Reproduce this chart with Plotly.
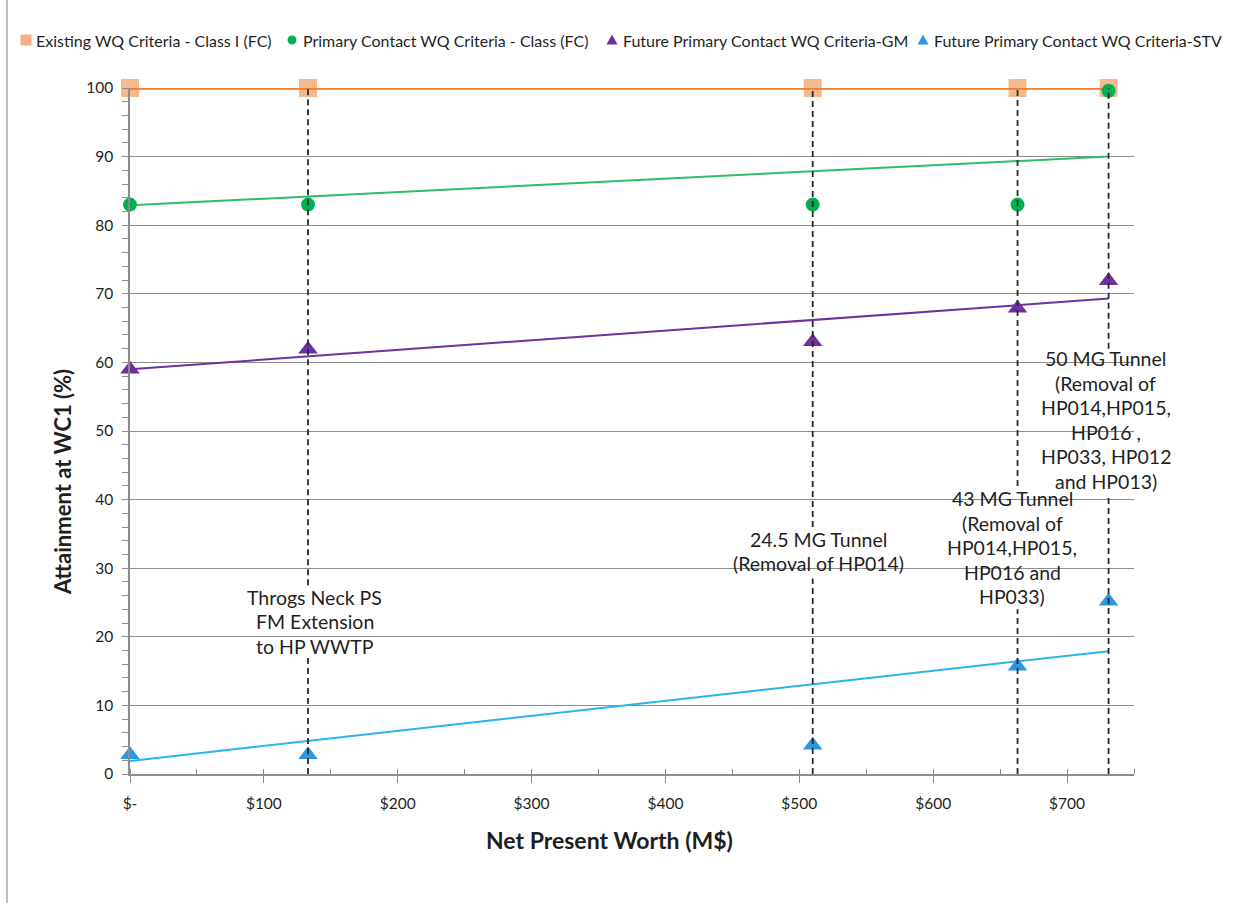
import plotly.graph_objects as go

# ---- data -------------------------------------------------------------
npw = [0, 133, 510, 663, 731]                       # Net present worth (M$)
existing_class1 = [100, 100, 100, 100, 100]
primary_contact = [83.0, 83.0, 83.0, 83.0, 99.6]
future_gm = [59.0, 61.9, 63.0, 67.9, 71.9]
future_stv = [2.8, 2.8, 4.2, 15.7, 25.2]

trend_x = [0, 731]
existing_trend = [100.0, 100.0]
primary_trend = [82.9, 90.0]
gm_trend = [59.0, 69.3]
stv_trend = [1.9, 17.9]

x_tickvals = [0, 100, 200, 300, 400, 500, 600, 700]
x_ticktext = ["$-", "$100", "$200", "$300", "$400", "$500", "$600", "$700"]

series_names = [
    "Existing WQ Criteria - Class I (FC)",
    "Primary Contact WQ Criteria - Class (FC)",
    "Future Primary Contact WQ Criteria-GM",
    "Future Primary Contact WQ Criteria-STV",
]

# alternative labels: (npw, attainment at label centre, lines of text)
alt_labels = [
    (138, 22.2, ["Throgs Neck PS", "FM Extension", "to HP WWTP"]),
    (514, 32.4, ["24.5 MG Tunnel", "(Removal of HP014)"]),
    (659, 33.0, ["43 MG Tunnel", "(Removal of", "HP014,HP015,", "HP016 and", "HP033)"]),
    (729, 51.6, ["50 MG Tunnel", "(Removal of", "HP014,HP015,", "HP016 ,", "HP033, HP012", "and HP013)"]),
]
# vertical leader lines break where the label text sits (y from, y to)
leader_gaps = {133: (17.0, 27.5), 510: (28.5, 36.0), 663: (24.0, 42.0), 731: (40.5, 62.0)}

FONT = "Lato, 'Open Sans', sans-serif"
TXT = "#1f1f1f"
GRID = "#8c8c8c"

fig = go.Figure()

# trend lines
fig.add_trace(go.Scatter(x=trend_x, y=primary_trend, mode="lines",
                         line=dict(color="#2cbf66", width=2), showlegend=False, hoverinfo="skip"))
fig.add_trace(go.Scatter(x=trend_x, y=gm_trend, mode="lines",
                         line=dict(color="#7030a0", width=2), showlegend=False, hoverinfo="skip"))
fig.add_trace(go.Scatter(x=trend_x, y=stv_trend, mode="lines",
                         line=dict(color="#2bb3ee", width=2), showlegend=False, hoverinfo="skip"))

# markers
fig.add_trace(go.Scatter(x=npw, y=existing_class1, mode="markers", name=series_names[0],
                         marker=dict(symbol="square", size=18, color="#f4b183", opacity=0.9),
                         cliponaxis=False, showlegend=False))
fig.add_trace(go.Scatter(x=trend_x, y=existing_trend, mode="lines",
                         line=dict(color="#ed7d31", width=3.5), showlegend=False, hoverinfo="skip"))
fig.add_trace(go.Scatter(x=npw, y=primary_contact, mode="markers", name=series_names[1],
                         marker=dict(symbol="circle", size=14, color="#00b050"),
                         cliponaxis=False, showlegend=False))
fig.add_trace(go.Scatter(x=npw, y=future_gm, mode="markers", name=series_names[2],
                         marker=dict(symbol="triangle-up", size=17, color="#7030a0"),
                         cliponaxis=False, showlegend=False))
fig.add_trace(go.Scatter(x=npw, y=future_stv, mode="markers", name=series_names[3],
                         marker=dict(symbol="triangle-up", size=17, color="#2e96e0"),
                         cliponaxis=False, showlegend=False))

# dashed leader lines for each alternative
for xv in npw[1:]:
    lo, hi = leader_gaps[xv]
    fig.add_trace(go.Scatter(x=[xv, xv, None, xv, xv], y=[0, lo, None, hi, 100], mode="lines",
                             line=dict(color="#2a2a2a", width=1.8, dash="6px,4px"),
                             showlegend=False, hoverinfo="skip", cliponaxis=False))

# alternative labels, one annotation per text line
LINE_STEP = 24.5
for xv, yv, lines in alt_labels:
    n = len(lines)
    for i, line in enumerate(lines):
        fig.add_annotation(x=xv, y=yv, text=line, showarrow=False, xanchor="center", yanchor="middle",
                           yshift=-(i - (n - 1) / 2) * LINE_STEP,
                           font=dict(family=FONT, size=19.5, color=TXT))

# legend row drawn across the top
PL, PR, PT, PB = 130, 104, 88, 129
W, H = 1238, 903
pw, ph = W - PL - PR, H - PT - PB


def px(xp):
    return (xp - PL) / pw


def py(yp):
    return (H - PB - yp) / ph


legend_y = 40
legend_items = [
    ("square", "#f4b183", 26, 34),
    ("circle", "#00b050", 292, 301),
    ("triangle", "#7030a0", 612, 621),
    ("triangle", "#2e96e0", 923, 932),
]
for (kind, col, mx, tx), name in zip(legend_items, series_names):
    if kind == "square":
        fig.add_shape(type="rect", xref="paper", yref="paper", xsizemode="pixel", ysizemode="pixel",
                      xanchor=px(mx), yanchor=py(legend_y), x0=-5.5, x1=5.5, y0=-5.5, y1=5.5,
                      fillcolor=col, line=dict(width=0))
    elif kind == "circle":
        fig.add_shape(type="circle", xref="paper", yref="paper", xsizemode="pixel", ysizemode="pixel",
                      xanchor=px(mx), yanchor=py(legend_y), x0=-4.5, x1=4.5, y0=-4.5, y1=4.5,
                      fillcolor=col, line=dict(width=0))
    else:
        fig.add_shape(type="path", xref="paper", yref="paper", xsizemode="pixel", ysizemode="pixel",
                      xanchor=px(mx), yanchor=py(legend_y), path="M -5.5 -4.5 L 5.5 -4.5 L 0 5.5 Z",
                      fillcolor=col, line=dict(width=0))
    fig.add_annotation(xref="paper", yref="paper", x=px(tx), y=py(legend_y), text=name,
                       showarrow=False, xanchor="left", yanchor="middle",
                       font=dict(family=FONT, size=16, color=TXT))

# axis titles
fig.add_annotation(xref="paper", yref="paper", x=px(609), y=py(840), text="<b>Net Present Worth (M$)</b>",
                   showarrow=False, xanchor="center", yanchor="middle",
                   font=dict(family=FONT, size=23, color=TXT))
fig.add_annotation(xref="paper", yref="paper", x=px(62), y=py(482), text="<b>Attainment at WC1 (%)</b>",
                   showarrow=False, xanchor="center", yanchor="middle", textangle=-90,
                   font=dict(family=FONT, size=22, color=TXT))

# chart-area border on the left
fig.add_shape(type="line", xref="paper", yref="paper", x0=px(7), x1=px(7), y0=py(H), y1=py(0),
              line=dict(color="#a6a6a6", width=1.5))

fig.update_layout(
    width=W, height=H,
    margin=dict(l=PL, r=PR, t=PT, b=PB),
    paper_bgcolor="white", plot_bgcolor="white",
    font=dict(family=FONT, size=13, color=TXT),
    showlegend=False,
    xaxis=dict(range=[0, 750], tickvals=x_tickvals, ticktext=x_ticktext,
               showgrid=False, zeroline=False, showline=True, linecolor=GRID, linewidth=1.5,
               ticks="outside", ticklen=7, tickcolor=GRID, tickwidth=1.3, ticklabelstandoff=8,
               tickfont=dict(family=FONT, size=15.5, color=TXT),
               minor=dict(dtick=50, tick0=0, ticks="inside", ticklen=5, tickcolor=GRID, tickwidth=1.3)),
    yaxis=dict(range=[0, 100], dtick=10, tick0=0,
               showgrid=True, gridcolor=GRID, gridwidth=1.3, zeroline=False,
               showline=True, linecolor=GRID, linewidth=1.5,
               ticks="outside", ticklen=6, tickcolor=GRID, tickwidth=1.3, ticklabelstandoff=6,
               tickfont=dict(family=FONT, size=15.5, color=TXT),
               minor=dict(dtick=2, tick0=0, ticks="outside", ticklen=6, tickcolor=GRID, tickwidth=1.3,
                          showgrid=False)),
)

fig.write_html("out.html")
